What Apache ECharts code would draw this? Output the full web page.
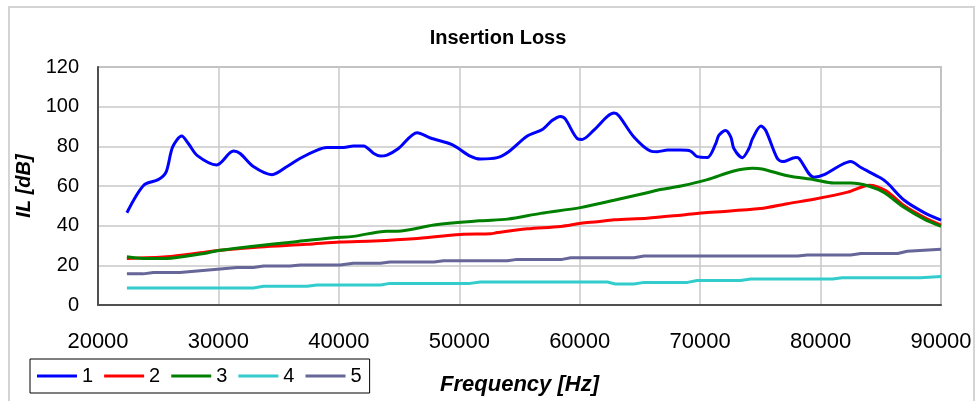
<!DOCTYPE html>
<html>
<head>
<meta charset="utf-8">
<script src="https://cdn.jsdelivr.net/npm/echarts@6/dist/echarts.min.js"></script>
<style>
  html, body { margin: 0; padding: 0; background: #fff; }
  #chart { width: 975px; height: 401px; }
</style>
</head>
<body>
<div id="chart"></div>
<script>
// ---- Data (frequency [Hz], insertion loss [dB]) ----
var seriesNames = ['1', '2', '3', '4', '5'];

var s1 = [[22400,46.5],[23800,60.4],[25000,63.2],[25650,67],[26200,79.7],[26950,85.2],[27500,81.4],[28250,75.3],[29850,70.6],[31250,77.6],[31800,76.4],[32900,69.8],[34450,65.7],[35700,69.8],[36800,74],[38200,78.1],[39000,79.4],[40400,79.4],[41200,80.2],[42050,80.2],[42900,76.4],[43450,75.1],[44000,75.6],[44950,78.9],[46500,86.9],[47600,84.2],[49400,80.9],[50900,75.1],[51750,73.6],[53150,74.3],[54100,77.3],[55650,85.2],[56900,88.5],[57700,93],[58400,95.1],[58800,93.8],[59800,83.9],[60200,83.5],[61150,88],[62300,95.1],[62850,96.8],[63250,95.4],[64500,84.7],[65900,77.6],[66450,77.3],[67300,78.1],[68400,78.1],[69200,77.6],[69750,74.8],[70600,74.4],[71300,81.4],[71550,85.5],[72100,88],[72550,84.7],[72800,78.9],[73500,74.3],[74050,78.9],[74350,83.9],[75050,90.2],[75450,88],[76400,74],[76850,72.3],[77950,74.4],[78200,74],[79450,64.4],[80300,65.7],[81700,70.6],[82500,72.3],[83350,69.3],[85000,64],[85550,61.5],[86950,52.8],[88600,46.6],[90000,42.8]];

var s2 = [[22400,23.5],[25700,24.3],[28500,26.3],[30150,27.6],[33450,29.3],[37350,30.6],[40100,31.8],[42900,32.3],[46200,33.4],[50100,35.6],[52600,35.9],[53150,36.5],[55650,38.4],[58400,39.6],[60100,41.2],[61450,42],[62850,43],[65600,43.8],[68400,45.3],[70600,46.6],[75000,48.6],[77250,51.1],[79450,53.3],[82250,56.9],[84050,60.4],[85400,57.7],[86950,50],[88600,44.2],[90000,40.3]];

var s3 = [[22400,24.3],[23750,23.5],[25700,23.5],[28500,25.7],[30150,27.6],[32900,29.6],[36250,31.8],[39550,33.9],[41200,34.6],[44000,37.2],[44850,37.2],[47900,40.3],[51750,42.5],[54000,43.3],[56750,46.2],[60050,49.1],[62850,52.8],[65600,56.6],[66700,58.2],[68400,60],[70600,63.2],[72800,67.6],[74350,69],[75150,68.6],[77250,65.2],[79450,63.2],[81100,61.5],[82500,61.5],[84050,59.9],[85300,56.6],[86950,49.1],[88600,43.3],[90000,39.6]];

var s4 = [[22400,8.6],[32900,8.6],[33750,9.4],[37350,9.4],[38200,10.1],[43450,10.1],[44250,10.9],[50900,10.9],[51750,11.6],[62300,11.6],[62950,10.6],[64500,10.6],[65350,11.4],[68950,11.4],[69750,12.4],[73350,12.4],[74200,13.1],[81000,13.1],[81800,13.7],[88300,13.7],[90000,14.4]];

var s5 = [[22400,15.7],[23750,15.7],[24600,16.4],[26800,16.4],[30150,18.2],[31550,18.9],[32900,18.9],[33750,19.7],[35950,19.7],[36800,20.2],[40100,20.2],[41200,21],[43450,21],[44250,21.7],[47900,21.7],[48700,22.3],[54000,22.3],[54800,23],[58550,23],[59250,23.8],[64500,23.8],[65350,24.7],[78100,24.7],[78900,25.2],[82500,25.2],[83350,26],[86400,26],[87200,27.1],[90000,28.1]];

var seriesData = [s1, s2, s3, s4, s5];
var colors = ['#0000FF', '#FF0000', '#008000', '#33CCCC', '#666699'];
var smoothing = [0.3, 0.3, 0.3, 0, 0];

var FONT = 'Liberation Sans, Arial, sans-serif';

var chart = echarts.init(document.getElementById('chart'), null, { renderer: 'canvas' });

var series = seriesData.map(function (d, i) {
  return {
    name: seriesNames[i],
    type: 'line',
    data: d,
    symbol: 'none',
    smooth: smoothing[i],
    lineStyle: { color: colors[i], width: 3 },
    itemStyle: { color: colors[i] },
    animation: false
  };
});

function plain(v) { return String(v); }

chart.setOption({
  animation: false,
  backgroundColor: '#ffffff',
  graphic: [{
    type: 'rect',
    shape: { x: 9, y: 7, width: 965, height: 400 },
    style: { fill: 'none', stroke: '#d4d4d4', lineWidth: 2 },
    silent: true,
    z: -10
  }],
  title: {
    text: 'Insertion Loss',
    left: 493,
    top: 23,
    textAlign: 'center',
    textStyle: { fontFamily: FONT, fontSize: 20, fontWeight: 'bold', color: '#000' }
  },
  legend: {
    data: seriesNames,
    left: 30,
    top: 359,
    orient: 'horizontal',
    icon: 'rect',
    itemWidth: 40,
    itemHeight: 3,
    itemGap: 11,
    padding: [7, 8, 7, 7],
    borderColor: '#000',
    borderWidth: 1,
    textStyle: { fontFamily: FONT, fontSize: 20, color: '#000' }
  },
  grid: {
    left: 98,
    right: 34,
    top: 67,
    bottom: 92,
    show: true,
    borderColor: '#999999',
    borderWidth: 1.5,
    containLabel: false
  },
  xAxis: {
    type: 'value',
    min: 20000,
    max: 90000,
    interval: 10000,
    name: 'Frequency [Hz]',
    nameLocation: 'middle',
    nameGap: 69,
    nameTextStyle: { fontFamily: FONT, fontSize: 22, fontWeight: 'bold', fontStyle: 'italic', color: '#000' },
    axisLine: { show: true, lineStyle: { color: '#505050', width: 2 } },
    axisTick: { show: false },
    axisLabel: { margin: 26, fontFamily: FONT, fontSize: 22, color: '#000', formatter: plain },
    splitLine: { show: true, lineStyle: { color: '#c8c8c8', width: 1.5 } }
  },
  yAxis: {
    type: 'value',
    min: 0,
    max: 120,
    interval: 20,
    name: 'IL [dB]',
    nameLocation: 'middle',
    nameGap: 60,
    nameRotate: 90,
    nameTextStyle: { fontFamily: FONT, fontSize: 20, fontWeight: 'bold', fontStyle: 'italic', color: '#000' },
    axisLine: { show: true, lineStyle: { color: '#505050', width: 2 } },
    axisTick: { show: false },
    axisLabel: { margin: 19, fontFamily: FONT, fontSize: 20, color: '#000', formatter: plain },
    splitLine: { show: true, lineStyle: { color: '#c8c8c8', width: 1.5 } }
  },
  series: series
});
</script>
</body>
</html>
